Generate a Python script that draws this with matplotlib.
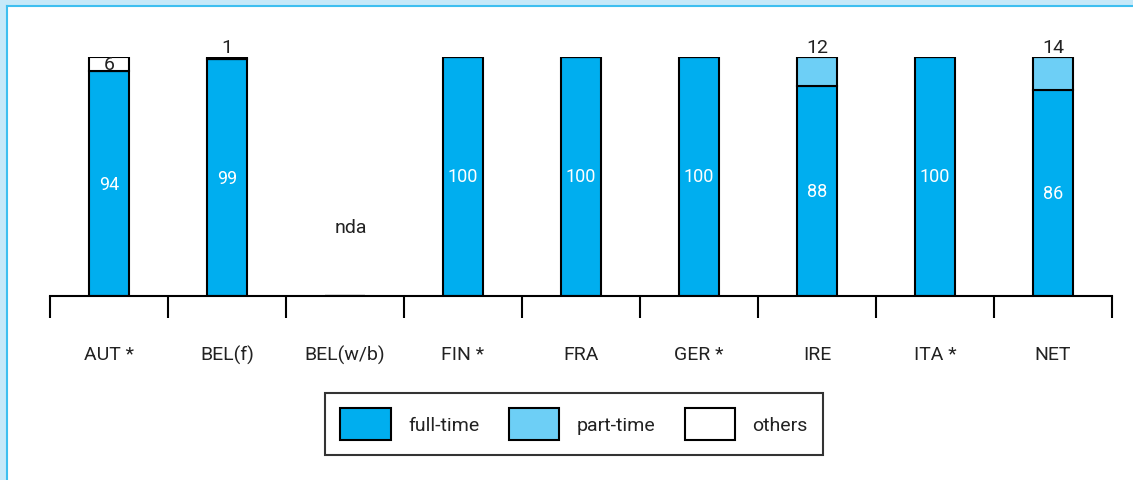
import numpy as np
import matplotlib
matplotlib.use("Agg")
import matplotlib.pyplot as plt
from matplotlib.patches import Rectangle, Patch
from matplotlib.lines import Line2D

plt.rcParams['font.family'] = ['Roboto', 'DejaVu Sans']

countries = ['AUT *', 'BEL(f)', 'BEL(w/b)', 'FIN *', 'FRA', 'GER *', 'IRE', 'ITA *', 'NET']
full_time = [94, 99, 0, 100, 100, 100, 88, 100, 86]
part_time = [0, 0, 0, 0, 0, 0, 12, 0, 14]
others = [6, 1, 0, 0, 0, 0, 0, 0, 0]
has_data = [True, True, False, True, True, True, True, True, True]

c_full = '#00aeef'
c_part = '#6dcff6'
c_other = '#ffffff'
txt = '#222222'

W, H = 1133, 481
fig = plt.figure(figsize=(W / 100, H / 100), dpi=100)
fig.patch.set_facecolor('white')
# light blue band on top and left, with a thin blue line inside
band = '#c6e9f9'
fig.add_artist(Rectangle((0, 1 - 6 / H), 1, 6 / H, transform=fig.transFigure,
                         facecolor=band, edgecolor='none', zorder=0))
fig.add_artist(Rectangle((0, 0), 6 / W, 1, transform=fig.transFigure,
                         facecolor=band, edgecolor='none', zorder=0))
fig.add_artist(Line2D([6.5 / W, 1], [1 - 6.5 / H, 1 - 6.5 / H], transform=fig.transFigure,
                      color='#3ebff0', lw=1.5, zorder=1))
fig.add_artist(Line2D([6.5 / W, 6.5 / W], [0, 1 - 6.5 / H], transform=fig.transFigure,
                      color='#3ebff0', lw=1.5, zorder=1))

ax = fig.add_axes([50 / W, (H - 297) / H, 1062 / W, 239 / H])
ax.set_facecolor('none')
x = np.arange(len(countries))
w = 0.34
ft = np.array(full_time)
pt = np.array(part_time)
ot = np.array(others)
ax.bar(x, ft, w, color=c_full, edgecolor='black', lw=1.5)
ax.bar(x, pt, w, bottom=ft, color=c_part, edgecolor='black', lw=1.5)
ax.bar(x, ot, w, bottom=ft + pt, color=c_other, edgecolor='black', lw=1.5)

for i in range(len(countries)):
    if not has_data[i]:
        ax.text(x[i] + 0.05, 29, 'nda', ha='center', va='center', fontsize=14, color=txt)
        continue
    ax.text(x[i], ft[i] / 2, str(ft[i]), ha='center', va='center', fontsize=13, color='white')
    if pt[i] > 0:
        ax.text(x[i], 100.5, str(pt[i]), ha='center', va='bottom', fontsize=14, color=txt, clip_on=False)
    if ot[i] > 0:
        if ot[i] >= 5:
            ax.text(x[i], ft[i] + pt[i] + ot[i] / 2, str(ot[i]), ha='center', va='center',
                    fontsize=14, color=txt)
        else:
            ax.text(x[i], 100.5, str(ot[i]), ha='center', va='bottom', fontsize=14, color=txt,
                    clip_on=False)

ax.set_xlim(-0.5, len(countries) - 0.5)
ax.set_ylim(0, 100)
for s in ['top', 'right', 'left']:
    ax.spines[s].set_visible(False)
ax.spines['bottom'].set_linewidth(1.5)
ax.set_yticks([])
ax.set_xticks(x)
ax.set_xticklabels(countries, fontsize=14, color=txt)
ax.tick_params(axis='x', which='major', length=0, pad=35)
ax.set_xticks(np.arange(-0.5, len(countries)), minor=True)
ax.tick_params(axis='x', which='minor', length=16, width=1.5, direction='out')

handles = [Patch(facecolor=c_full, edgecolor='black', lw=1.5, label='full-time'),
           Patch(facecolor=c_part, edgecolor='black', lw=1.5, label='part-time'),
           Patch(facecolor=c_other, edgecolor='black', lw=1.5, label='others')]
leg = fig.legend(handles=handles, loc='center', bbox_to_anchor=(574 / W, 1 - 425 / H), ncol=3,
                 frameon=True, fancybox=False, edgecolor='black', fontsize=14,
                 handlelength=2.6, handleheight=2.2, handletextpad=0.9, columnspacing=1.5,
                 borderpad=0.75, labelcolor=txt)
leg.get_frame().set_linewidth(1.5)

fig.savefig('out.png', dpi=100, facecolor=fig.get_facecolor())
